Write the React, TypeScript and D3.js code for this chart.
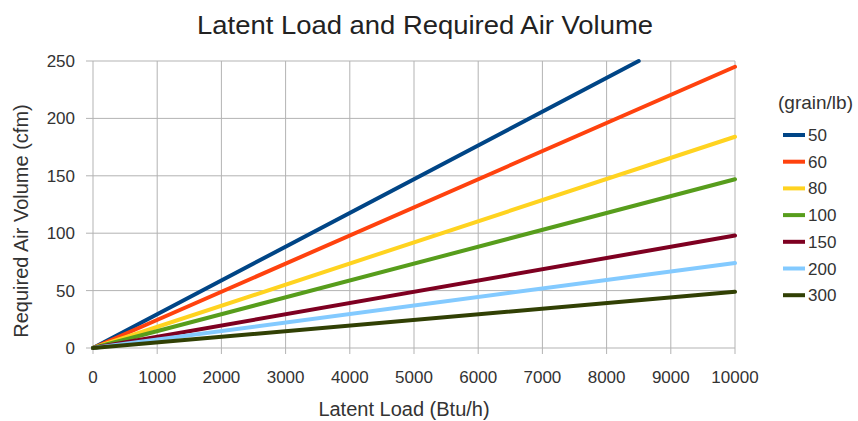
import React from "react";
import * as d3 from "d3";

const grains = ["50", "60", "80", "100", "150", "200", "300"];
const colors = ["#004586", "#ff420e", "#ffd320", "#579d1c", "#7e0021", "#83caff", "#314004"];
// end points of each straight line: [latent load, cfm]
const seriesPoints: [number, number][][] = [
  [[0, 0], [8500, 250]],
  [[0, 0], [10000, 245]],
  [[0, 0], [10000, 184]],
  [[0, 0], [10000, 147]],
  [[0, 0], [10000, 98]],
  [[0, 0], [10000, 74]],
  [[0, 0], [10000, 49]],
];
const xTicks = [0, 1000, 2000, 3000, 4000, 5000, 6000, 7000, 8000, 9000, 10000];
const yTicks = [0, 50, 100, 150, 200, 250];

const W = 858, H = 421;
const left = 93, right = 735, top = 61, bottom = 348;
const font = "'Liberation Sans', Arial, sans-serif";

export default function App() {
  const x = d3.scaleLinear().domain([0, 10000]).range([left, right]);
  const y = d3.scaleLinear().domain([0, 250]).range([bottom, top]);
  const line = d3.line<[number, number]>().x(d => x(d[0])).y(d => y(d[1]));
  return (
    <svg width={W} height={H} style={{ position: "absolute", left: 0, top: 0, background: "#fff" }}>
      <text x={425} y={34} textAnchor="middle" fontFamily={font} fontSize={26} fill="#222"
        textLength={456} lengthAdjust="spacingAndGlyphs">
        Latent Load and Required Air Volume
      </text>
      {xTicks.map(t => (
        <g key={"x" + t}>
          <line x1={x(t)} x2={x(t)} y1={top} y2={bottom + 6} stroke="#b3b3b3" strokeWidth={1} />
          <text x={x(t)} y={383} textAnchor="middle" fontFamily={font} fontSize={17} fill="#333">{t}</text>
        </g>
      ))}
      {yTicks.map(t => (
        <g key={"y" + t}>
          <line x1={left - 7} x2={right} y1={y(t)} y2={y(t)} stroke="#b3b3b3" strokeWidth={1} />
          <text x={75} y={y(t) + 6} textAnchor="end" fontFamily={font} fontSize={17} fill="#333">{t}</text>
        </g>
      ))}
      {seriesPoints.map((pts, i) => (
        <path key={grains[i]} d={line(pts) || ""} fill="none" stroke={colors[i]} strokeWidth={4} strokeLinecap="round" />
      ))}
      <text x={404} y={416} textAnchor="middle" fontFamily={font} fontSize={20} fill="#333">Latent Load (Btu/h)</text>
      <text transform={`translate(28,221) rotate(-90)`} textAnchor="middle" fontFamily={font} fontSize={20} fill="#333">
        Required Air Volume (cfm)
      </text>
      <text x={778} y={109} fontFamily={font} fontSize={19} fill="#333">(grain/lb)</text>
      {grains.map((g, i) => {
        const yy = 135 + i * 26.7;
        return (
          <g key={"l" + g}>
            <line x1={783} x2={805} y1={yy} y2={yy} stroke={colors[i]} strokeWidth={4} />
            <text x={808} y={yy + 6} fontFamily={font} fontSize={17} fill="#333">{g}</text>
          </g>
        );
      })}
    </svg>
  );
}
